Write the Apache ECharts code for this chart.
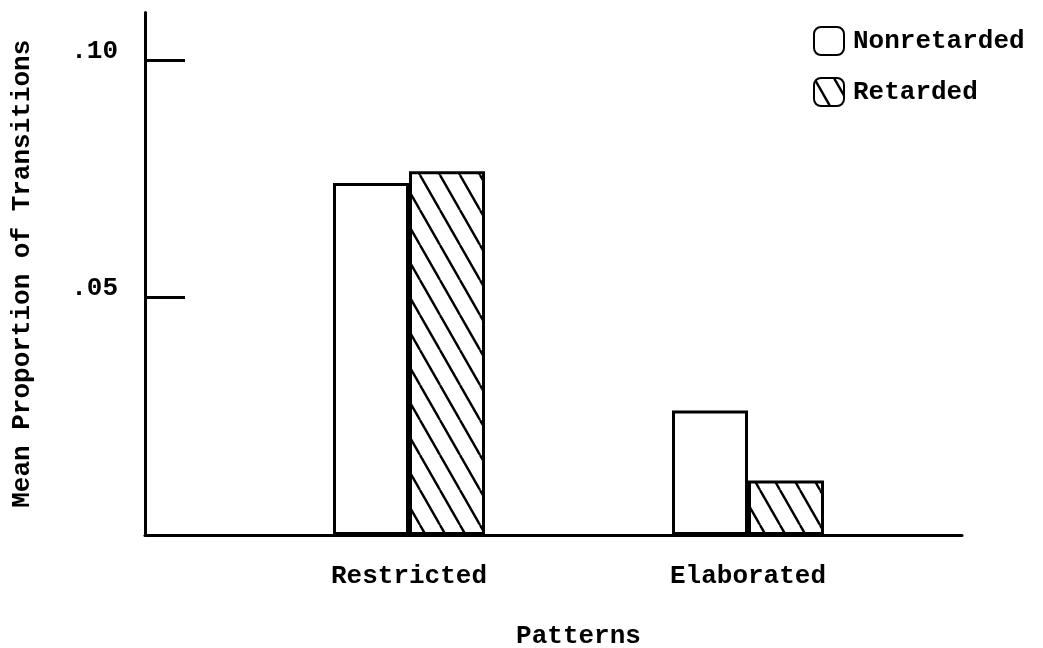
<!DOCTYPE html>
<html>
<head>
<meta charset="utf-8">
<script src="https://cdn.jsdelivr.net/npm/echarts@6/dist/echarts.min.js"></script>
<style>
html,body{margin:0;padding:0;background:#fff;}
#c{width:1043px;height:648px;}
</style>
</head>
<body>
<div id="c"></div>
<script>
const categories = ['Restricted', 'Elaborated'];
const nonretarded = [0.0741, 0.0262];
const retarded = [0.0766, 0.0115];
const yTicks = [0.05, 0.10];
const seriesNames = ['Nonretarded', 'Retarded'];

const FONT = '"Liberation Mono", "DejaVu Sans Mono", monospace';

function hatch() {
  const w = 20, h = 35;
  const cv = document.createElement('canvas');
  cv.width = w; cv.height = h;
  const ctx = cv.getContext('2d');
  ctx.fillStyle = '#fff';
  ctx.fillRect(0, 0, w, h);
  ctx.strokeStyle = '#000';
  ctx.lineWidth = 2.4;
  for (let k = -1; k <= 1; k++) {
    ctx.beginPath();
    ctx.moveTo(k * w, 0);
    ctx.lineTo(k * w + w, h);
    ctx.stroke();
  }
  return cv;
}

const chart = echarts.init(document.getElementById('c'));
const yMax = 0.11;
chart.setOption({
  animation: false,
  backgroundColor: '#fff',
  textStyle: { fontFamily: FONT, color: '#000' },
  grid: [
    { left: 145, right: 81, top: 12.5, bottom: 113, outerBoundsMode: 'none', containLabel: false },
    { left: 239.5, right: 125.5, top: 12.5, bottom: 113, outerBoundsMode: 'none', containLabel: false }
  ],
  legend: {
    orient: 'vertical',
    left: 808, top: 21,
    itemWidth: 30, itemHeight: 28, itemGap: 21,
    icon: 'roundRect',
    data: seriesNames,
    itemStyle: { borderColor: '#000', borderWidth: 2 },
    textStyle: { fontFamily: FONT, fontSize: 26, fontWeight: 'bold', color: '#000', padding: [0, 0, 0, 4] }
  },
  xAxis: [
    {
      gridIndex: 0, type: 'value', min: 0, max: 1,
      axisLine: { show: true, onZero: false, lineStyle: { color: '#000', width: 3 } },
      axisTick: { show: false }, axisLabel: { show: false }, splitLine: { show: false }
    },
    {
      gridIndex: 1, type: 'category', data: categories,
      axisLine: { show: false }, axisTick: { show: false }, splitLine: { show: false },
      axisLabel: { fontFamily: FONT, fontSize: 26, fontWeight: 'bold', color: '#000', margin: 28 },
      name: 'Patterns', nameLocation: 'middle', nameGap: 88,
      nameTextStyle: { fontFamily: FONT, fontSize: 26, fontWeight: 'bold', color: '#000' }
    }
  ],
  yAxis: [
    {
      gridIndex: 0, type: 'value', min: 0, max: yMax, interval: 0.05,
      axisLine: { show: true, onZero: false, lineStyle: { color: '#000', width: 3 } },
      axisTick: { show: true, inside: true, length: 40, customValues: yTicks, lineStyle: { color: '#000', width: 3 } },
      axisLabel: {
        customValues: yTicks, margin: 27, verticalAlign: 'bottom', padding: [0, 0, -4, 0],
        fontFamily: FONT, fontSize: 26, fontWeight: 'bold', color: '#000',
        formatter: v => v.toFixed(2).replace(/^0/, '')
      },
      splitLine: { show: false },
      name: 'Mean Proportion of Transitions', nameLocation: 'middle', nameRotate: 90, nameGap: 110,
      nameTextStyle: { fontFamily: FONT, fontSize: 26, fontWeight: 'bold', color: '#000' }
    },
    {
      gridIndex: 1, type: 'value', min: 0, max: yMax,
      show: false, splitLine: { show: false }
    }
  ],
  series: [
    {
      name: seriesNames[0], type: 'bar', xAxisIndex: 1, yAxisIndex: 1,
      data: nonretarded, barWidth: 76, barGap: '0%',
      itemStyle: { color: '#fff', borderColor: '#000', borderWidth: 3 }
    },
    {
      name: seriesNames[1], type: 'bar', xAxisIndex: 1, yAxisIndex: 1,
      data: retarded, barWidth: 76, barGap: '0%',
      itemStyle: { color: { image: hatch(), repeat: 'repeat' }, borderColor: '#000', borderWidth: 3 }
    }
  ]
});
</script>
</body>
</html>
